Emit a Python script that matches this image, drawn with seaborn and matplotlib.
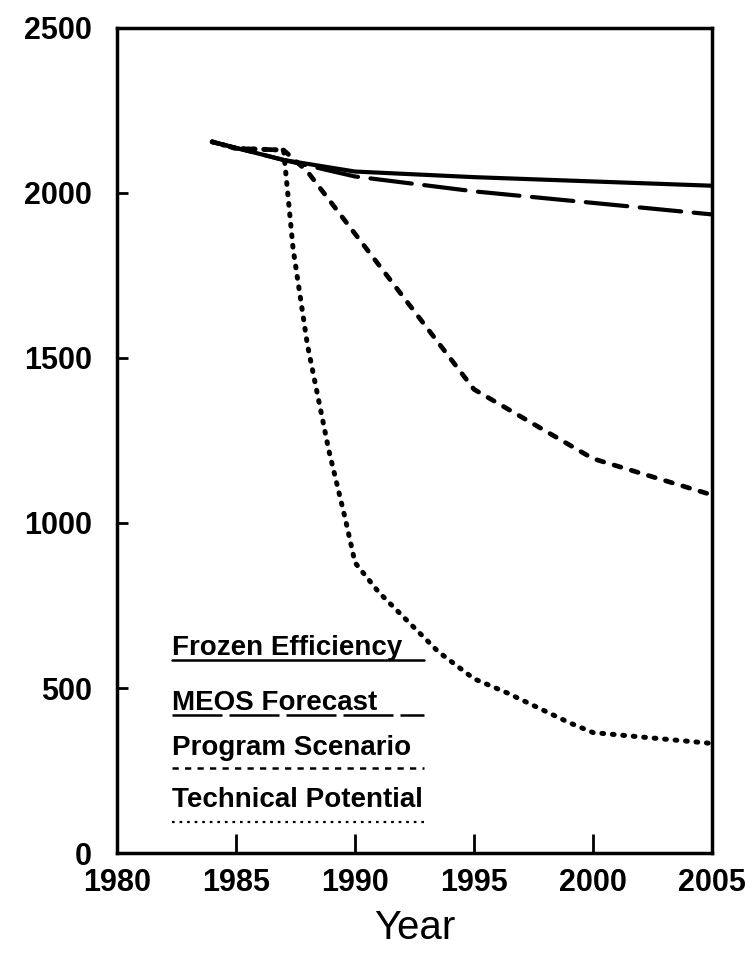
import matplotlib
matplotlib.use("Agg")
import matplotlib.pyplot as plt
from matplotlib import font_manager
import seaborn as sns
import pandas as pd

# ---- data -------------------------------------------------------------
frozen_years = [1984, 1987, 1990, 1995, 2000, 2005]
frozen_vals = [2155, 2100, 2065, 2048, 2035, 2022]

meos_years = [1984, 1987, 1990, 1995, 2000, 2005]
meos_vals = [2155, 2100, 2050, 2005, 1970, 1935]

program_years = [1984, 1985, 1987, 1988, 1995, 2000, 2005]
program_vals = [2155, 2135, 2130, 2065, 1405, 1195, 1085]

technical_years = [1984, 1985, 1987, 1987.4, 1988, 1988.9, 1989.6, 1990,
                   1991, 1993.5, 1995, 1996.4, 1999, 2000, 2005]
technical_vals = [2155, 2135, 2130, 1830, 1540, 1220, 1010, 880,
                  790, 610, 528, 485, 395, 365, 332]

series_names = ["Frozen Efficiency", "MEOS Forecast",
                "Program Scenario", "Technical Potential"]
x_ticks = [1980, 1985, 1990, 1995, 2000, 2005]
y_ticks = [0, 500, 1000, 1500, 2000, 2500]

# ---- fonts ------------------------------------------------------------
sns.set_theme(style="white")
available = {f.name for f in font_manager.fontManager.ttflist}
narrow = "Liberation Sans Narrow" if "Liberation Sans Narrow" in available else "Liberation Sans"
plt.rcParams["font.family"] = ["Liberation Sans", "DejaVu Sans"]

fig = plt.figure(figsize=(7.55, 9.55), dpi=100)
ax = fig.add_axes([0.155, 0.1068, 0.788, 0.8639])

# ---- line styles --------------------------------------------------------
styles = {
    "Frozen Efficiency": dict(linestyle="-", lw=3.0),
    "MEOS Forecast": dict(linestyle=(0, (10.0, 3.0)), lw=3.0),
    "Program Scenario": dict(linestyle=(0, (1.5, 2.3)), lw=3.4),
    "Technical Potential": dict(linestyle=(0, (0.35, 1.75)), lw=3.6),
}
data = {
    "Frozen Efficiency": (frozen_years, frozen_vals),
    "MEOS Forecast": (meos_years, meos_vals),
    "Program Scenario": (program_years, program_vals),
    "Technical Potential": (technical_years, technical_vals),
}

for name in series_names:
    yrs, vals = data[name]
    df = pd.DataFrame({"Year": yrs, "Value": vals})
    sns.lineplot(data=df, x="Year", y="Value", ax=ax, color="black",
                 dash_capstyle="round", solid_capstyle="round",
                 **styles[name])

# ---- in-plot key: names underlined with their line style ---------------
key_x0, key_x1 = 1982.3, 1992.9
key_text_y = [600, 433, 297, 139]
key_line_y = [585, 418, 258, 94]
key_styles = {
    "Frozen Efficiency": dict(linestyle="-", lw=1.8),
    "MEOS Forecast": dict(linestyle=(0, (20, 2.8)), lw=1.8),
    "Program Scenario": dict(linestyle=(0, (2.5, 2.5)), lw=1.8),
    "Technical Potential": dict(linestyle=(0, (1.2, 2.2)), lw=1.6),
}
for name, ty, ly in zip(series_names, key_text_y, key_line_y):
    ax.text(key_x0, ty, name, ha="left", va="baseline", fontsize=20,
            fontweight="bold", family=[narrow, "DejaVu Sans"], color="black")
    sns.lineplot(x=[key_x0, key_x1], y=[ly, ly], ax=ax, color="black",
                 **key_styles[name])

# ---- axes ---------------------------------------------------------------
ax.set_xlim(1980, 2005)
ax.set_ylim(0, 2500)
ax.set_xticks(x_ticks)
ax.set_yticks(y_ticks)
ax.set_xticklabels([str(t) for t in x_ticks], fontsize=22, fontweight="bold")
ax.set_yticklabels([str(t) for t in y_ticks], fontsize=22, fontweight="bold")
ax.tick_params(axis="x", direction="in", length=14, width=2, pad=11,
               colors="black", bottom=True, top=False)
ax.tick_params(axis="y", direction="in", length=8, width=2, pad=18,
               colors="black", left=True, right=False)
ax.set_xlabel("Year", fontsize=29, labelpad=8, color="black",
              family=[narrow, "DejaVu Sans"])
ax.set_ylabel("")
for sp in ax.spines.values():
    sp.set_visible(True)
    sp.set_color("black")
    sp.set_linewidth(2.5)
ax.grid(False)
ax.set_facecolor("white")
fig.patch.set_facecolor("white")

fig.savefig("out.png", dpi=100)
